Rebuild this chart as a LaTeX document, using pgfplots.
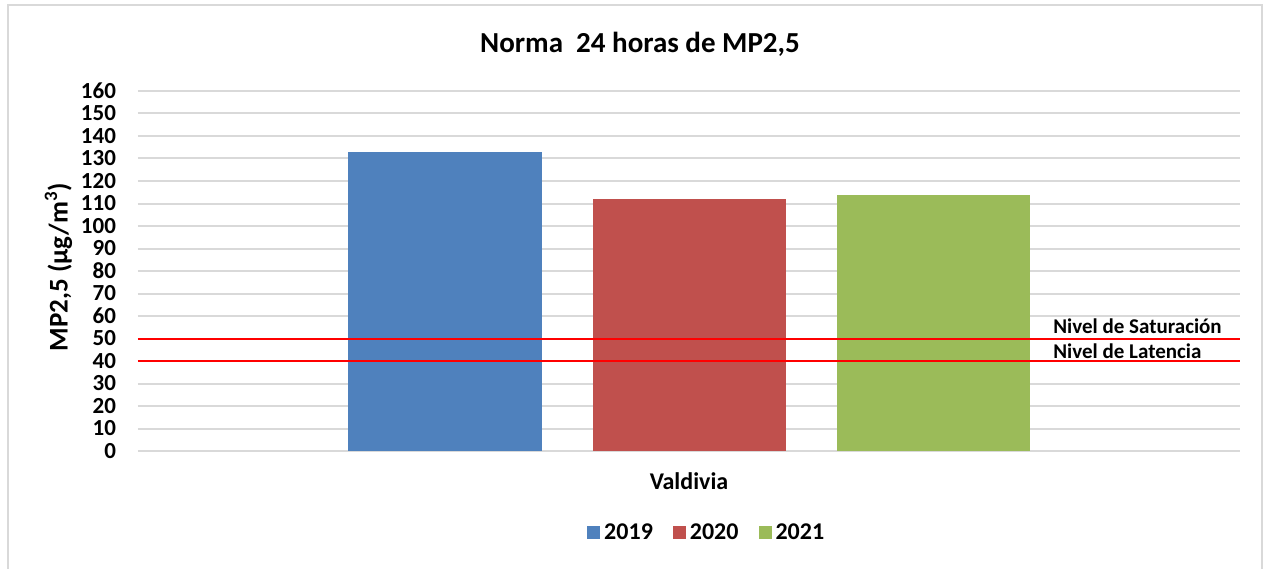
\documentclass[border=0pt]{standalone}
\usepackage{pgfplots}
\pgfplotsset{compat=1.18}
\usepackage{fontspec}
\setmainfont{Carlito}
\definecolor{c19}{HTML}{4F81BD}
\definecolor{c20}{HTML}{C0504D}
\definecolor{c21}{HTML}{9BBB59}
\definecolor{gridc}{HTML}{D9D9D9}
\begin{document}
\begin{tikzpicture}
\useasboundingbox (0,0) rectangle (634pt,284pt);
\fill[white] (0,0) rectangle (634pt,284pt);
\draw[gridc, line width=1pt] (4pt,-5pt) rectangle (631pt,281.5pt);
\node[font=\bfseries\fontsize{14.5}{17}\selectfont] at (320pt,262pt) {Norma\ \ 24 horas de MP2,5};
\begin{axis}[
  at={(69pt,58.5pt)}, anchor=south west,
  scale only axis, width=551pt, height=180pt,
  ymin=0, ymax=160, ytick={0,10,...,160},
  xmin=-0.5, xmax=0.5, xtick={0}, xticklabels={Valdivia},
  ybar=25.5pt, bar width=96.5pt,
  axis line style={draw=none}, tick style={draw=none},
  ymajorgrids, grid style={gridc, line width=1pt},
  /pgf/number format/assume math mode=true,
  tick label style={font=\bfseries\fontsize{11.5}{13}\selectfont},
  yticklabel style={xshift=-7.5pt},
  xticklabel style={yshift=-3pt, font=\bfseries\fontsize{12}{14}\selectfont},
  ylabel={MP2,5 (µg/m\textsuperscript{3})},
  ylabel style={font=\bfseries\fontsize{13.5}{16}\selectfont, yshift=-2.5pt, xshift=2pt},
  legend style={at={(0.517,-0.228)}, anchor=center, legend columns=3, draw=none,
    font=\bfseries\fontsize{12}{14}\selectfont,
    /tikz/every even column/.append style={column sep=8pt}},
  legend image code/.code={\fill[#1] (0pt,-3pt) rectangle (6.5pt,3.5pt);},
  clip=false,
]
\addplot[fill=c19, draw=none] coordinates {(0,133)};
\addplot[fill=c20, draw=none] coordinates {(0,112)};
\addplot[fill=c21, draw=none] coordinates {(0,114)};
\legend{2019,2020,2021}
\addplot[sharp plot, red, line width=1pt, forget plot, bar shift=0pt] coordinates {(-0.5,50) (0.5,50)};
\addplot[sharp plot, red, line width=1pt, forget plot, bar shift=0pt] coordinates {(-0.5,40) (0.5,40)};
\node[anchor=west, font=\bfseries\fontsize{10.5}{12}\selectfont, inner sep=0pt] at (axis cs:0.3303,55.6) {Nivel de Saturación};
\node[anchor=west, font=\bfseries\fontsize{10.5}{12}\selectfont, inner sep=0pt] at (axis cs:0.3303,44.4) {Nivel de Latencia};
\end{axis}
\end{tikzpicture}
\end{document}
